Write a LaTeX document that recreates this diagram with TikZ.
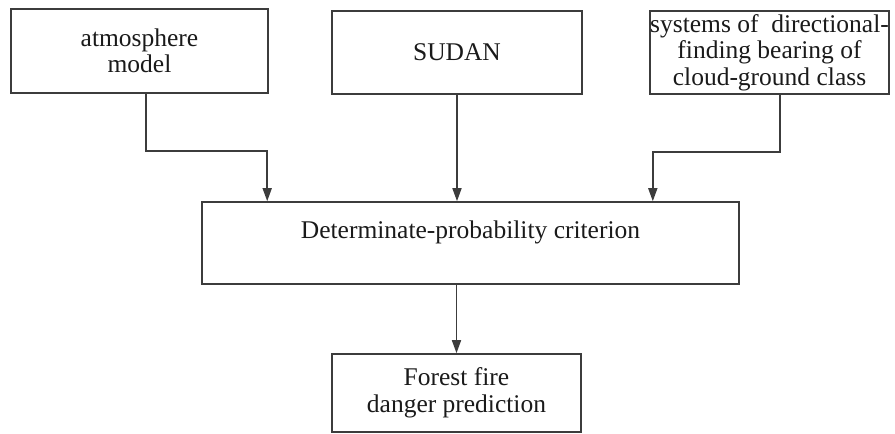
\documentclass[tikz,border=0pt]{standalone}
\usepackage{fontspec}
\setmainfont{Liberation Serif}
\usepackage{xcolor}
\usepackage{tikz}
\usetikzlibrary{arrows.meta,positioning}

\definecolor{edgegray}{HTML}{3C3C3C}
\definecolor{textgray}{HTML}{1A1A1A}

\begin{document}
\begin{tikzpicture}[
    x=1pt, y=-1pt,
    every node/.style={font=\fontsize{25.5}{26.5}\selectfont, text=textgray},
    box/.style={draw=edgegray, line width=1.6pt, align=center, inner sep=0pt},
    arr/.style={-{Triangle[length=13pt,width=9pt]}, draw=edgegray, line width=1.6pt}
]
\useasboundingbox (0,0) rectangle (895,434);

\node[box, minimum width=257pt, minimum height=84pt] (atm) at (139.5,51) {atmosphere\\model};
\node[box, minimum width=250pt, minimum height=83pt] (sudan) at (457,52.5) {SUDAN};
\node[box, minimum width=235pt, minimum height=83pt] (sys) at (769.5,52.5) {systems of\ \ directional-\\finding bearing of\\cloud-ground class};

\node[box, minimum width=537pt, minimum height=82pt] (crit) at (470.5,243) {Determinate-probability criterion\\\mbox{}};
\node[box, minimum width=249pt, minimum height=78pt] (fire) at (456.5,393) {Forest fire\\danger prediction};

\draw[arr] ([xshift=6.5pt]atm.south) -- ++(0,57) -| ([xshift=66pt]crit.north west);
\draw[arr] (sudan.south) -- (sudan.south |- crit.north);
\draw[arr] ([xshift=10.5pt]sys.south) -- ++(0,57) -| ([xshift=-87pt]crit.north east);
\draw[arr] (crit.south -| fire.north) -- (fire.north);
\end{tikzpicture}
\end{document}
